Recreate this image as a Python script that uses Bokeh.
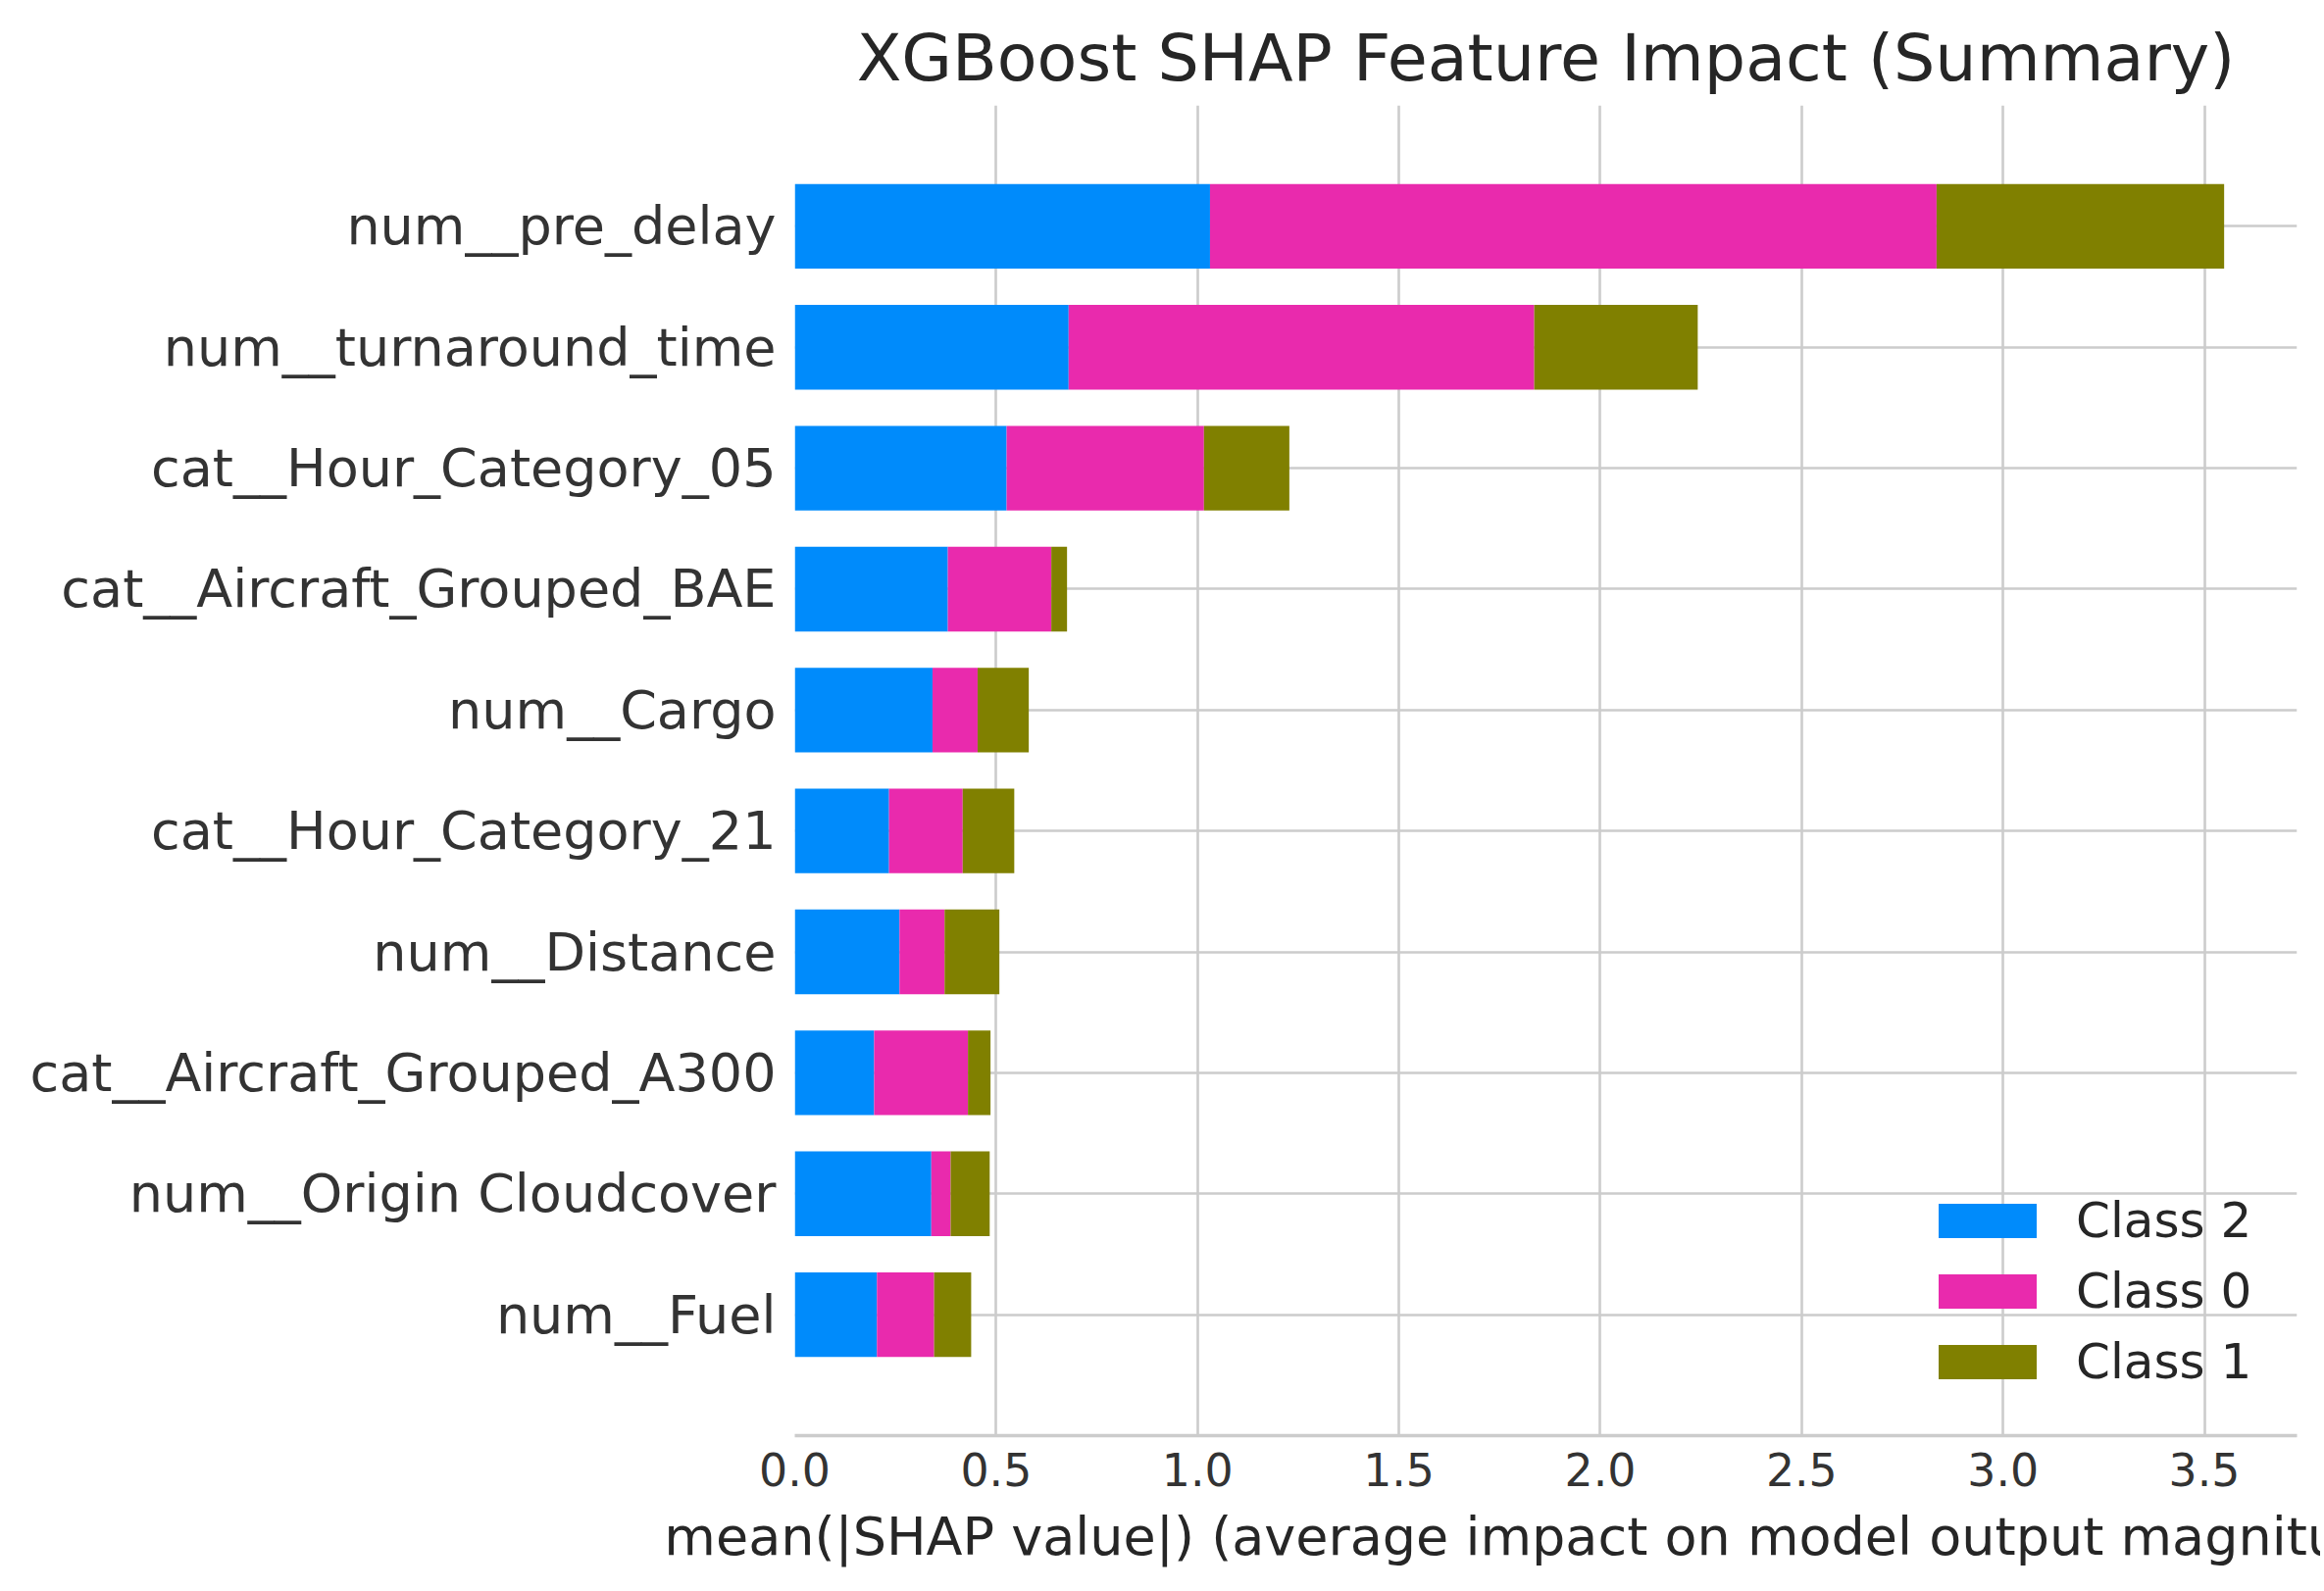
from bokeh.plotting import figure
from bokeh.models import ColumnDataSource, Range1d, FixedTicker, PrintfTickFormatter
from bokeh.embed import file_html
from bokeh.resources import INLINE

# ---- data ----
features = [
    "num__pre_delay",
    "num__turnaround_time",
    "cat__Hour_Category_05",
    "cat__Aircraft_Grouped_BAE",
    "num__Cargo",
    "cat__Hour_Category_21",
    "num__Distance",
    "cat__Aircraft_Grouped_A300",
    "num__Origin Cloudcover",
    "num__Fuel",
]
class2 = [1.031, 0.680, 0.526, 0.380, 0.342, 0.234, 0.260, 0.197, 0.339, 0.204]
class0 = [1.804, 1.156, 0.490, 0.257, 0.112, 0.183, 0.112, 0.233, 0.048, 0.142]
class1 = [0.714, 0.406, 0.212, 0.039, 0.127, 0.128, 0.136, 0.056, 0.097, 0.092]
class_names = ["Class 2", "Class 0", "Class 1"]
class_colors = ["#008bfb", "#e92aad", "#808000"]
x_ticks = [0.0, 0.5, 1.0, 1.5, 2.0, 2.5, 3.0, 3.5]

title = "XGBoost SHAP Feature Impact (Summary)"
x_label = "mean(|SHAP value|) (average impact on model output magnitude)"

n = len(features)
ypos = [n - 1 - i for i in range(n)]

source = ColumnDataSource(dict(y=ypos, feature=features, c2=class2, c0=class0, c1=class1))

FONT = "DejaVu Sans"

p = figure(
    width=2366, height=1607,
    x_range=Range1d(0, 3.73), y_range=Range1d(-1, n),
    output_backend="svg", toolbar_location=None,
    min_border_left=810, min_border_right=24, min_border_top=107, min_border_bottom=143,
    title=title,
)
p.background_fill_color = "white"
p.border_fill_color = "white"
p.outline_line_color = None

p.hbar_stack(["c2", "c0", "c1"], y="y", height=0.7, color=class_colors,
             source=source, legend_label=class_names, line_width=0)

# title
p.title.text_font = FONT
p.title.text_font_size = "66.7px"
p.title.text_font_style = "normal"
p.title.text_color = "#262626"
p.title.align = "center"
p.title.standoff = 19

# x axis
xa = p.xaxis[0]
xa.ticker = FixedTicker(ticks=x_ticks)
xa.formatter = PrintfTickFormatter(format="%.1f")
xa.axis_line_color = "#cccccc"
xa.axis_line_width = 3.3
xa.major_tick_line_color = None
xa.minor_tick_line_color = None
xa.major_label_text_font = FONT
xa.major_label_text_font_size = "45.8px"
xa.major_label_text_color = "#333333"
xa.major_label_standoff = 11
xa.axis_label = x_label
xa.axis_label_text_font = FONT
xa.axis_label_text_font_size = "54px"
xa.axis_label_text_font_style = "normal"
xa.axis_label_text_color = "#262626"
xa.axis_label_standoff = 17

# y axis
ya = p.yaxis[0]
ya.ticker = FixedTicker(ticks=ypos)
ya.major_label_overrides = {y: f for y, f in zip(ypos, features)}
ya.axis_line_color = None
ya.major_tick_line_color = None
ya.minor_tick_line_color = None
ya.major_label_text_font = FONT
ya.major_label_text_font_size = "54px"
ya.major_label_text_color = "#333333"
ya.major_label_standoff = 13

# grids
p.xgrid.grid_line_color = "#cccccc"
p.xgrid.grid_line_width = 2.6
p.ygrid.grid_line_color = "#cccccc"
p.ygrid.grid_line_width = 2.6

# legend
lg = p.legend[0]
lg.location = (1154, 46)
lg.border_line_color = None
lg.background_fill_alpha = 0
lg.padding = 0
lg.margin = 0
lg.glyph_width = 125
lg.glyph_height = 44
lg.label_standoff = 28
lg.label_text_font = FONT
lg.label_text_font_size = "50px"
lg.label_text_color = "#262626"
lg.spacing = 14

open("out.html", "w").write(file_html(p, INLINE))
